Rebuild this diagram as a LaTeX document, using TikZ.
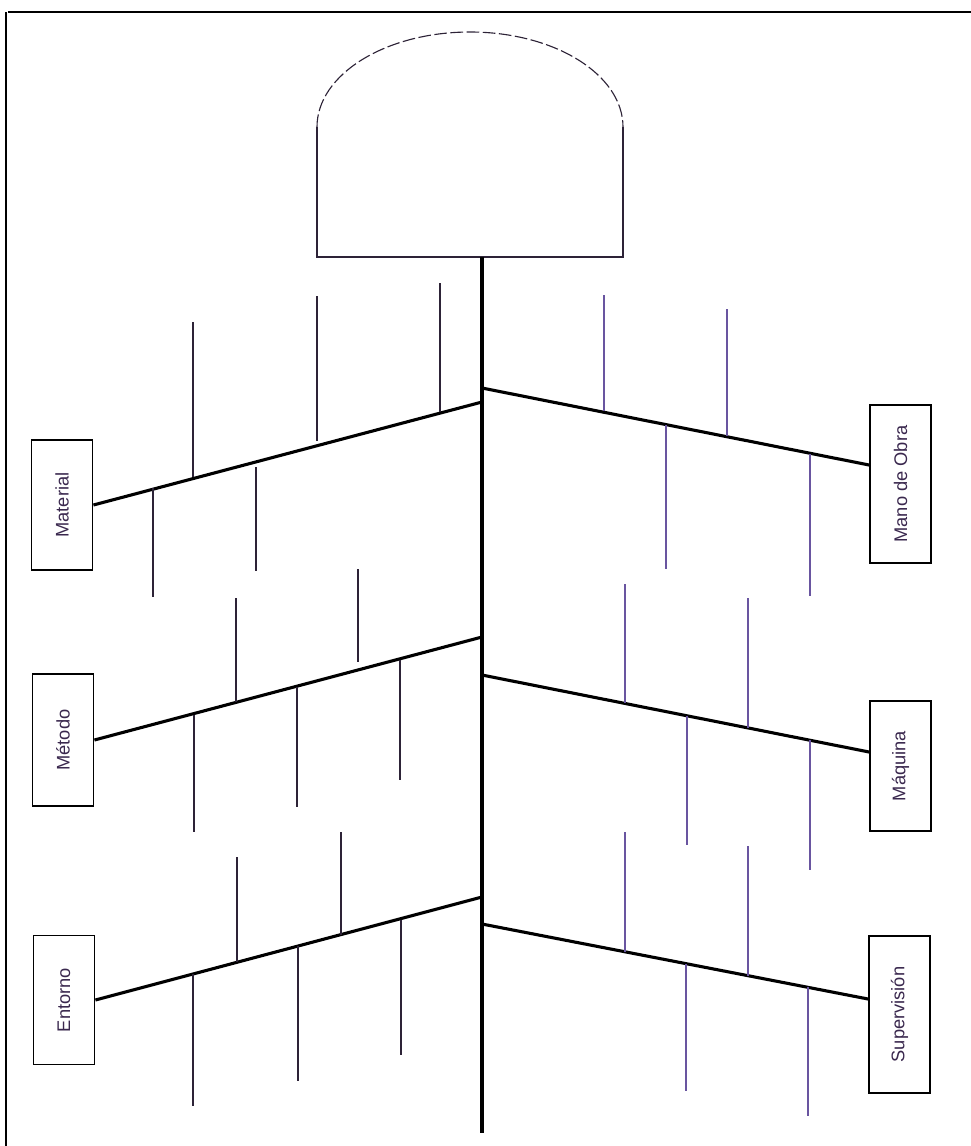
\documentclass[tikz,border=0pt]{standalone}
\usepackage{fontspec}
\setmainfont{Liberation Sans}
\usepackage{xcolor}
\usetikzlibrary{positioning}

\definecolor{labelink}{RGB}{58,40,78}
\definecolor{ribdark}{RGB}{45,35,55}
\definecolor{ribviolet}{RGB}{105,85,160}

\begin{document}
\begin{tikzpicture}[
        x=0.025cm, y=-0.025cm,
        causebox/.style={
            draw, line width=1.3pt, inner sep=0pt,
            minimum width=1.525cm,
            font=\fontsize{13}{15}\selectfont, text=labelink
        },
        headline/.style={line width=0.8pt, draw=ribdark},
        spine/.style={line width=3.2pt},
        bone/.style={line width=2.2pt},
        rib/.style={line width=0.8pt, draw=ribdark},
        ribR/.style={line width=0.8pt, draw=ribviolet}
    ]

        \useasboundingbox (0,0) rectangle (971,1146);

        \draw[line width=1.6pt] (8,12) -- (971,12);
        \draw[line width=1.1pt] (6,12) -- (6,1146);

        \coordinate (Head) at (482,257);
        \coordinate (Tail) at (482,1133);
        \draw[headline] (Head) -| (623,127);
        \draw[headline] (Head) -| (317,127);
        \draw[headline, dash pattern=on 9pt off 2.5pt]
            (317,127) arc[start angle=180, end angle=360, x radius=153, y radius=95];
        \draw[spine] (Head) -- (Tail);

        \node[causebox, minimum height=3.25cm] (Material) at (62,505) {\rotatebox{90}{Material}};
        \node[causebox, minimum height=3.3cm] (Metodo) at (63,740) {\rotatebox{90}{Método}};
        \node[causebox, minimum height=3.225cm] (Entorno) at (64,1000) {\rotatebox{90}{Entorno}};
        \node[causebox, minimum height=3.95cm] (ManoObra) at (900.5,484) {\rotatebox{90}{Mano de Obra}};
        \node[causebox, minimum height=3.25cm] (Maquina) at (900.5,766) {\rotatebox{90}{Máquina}};
        \node[causebox, minimum height=3.925cm] (Supervision) at (899.5,1014.5) {\rotatebox{90}{Supervisión}};

        \coordinate (sL1) at (482,402);
        \coordinate (sL2) at (482,637);
        \coordinate (sL3) at (482,897);
        \coordinate (sR1) at (482,388);
        \coordinate (sR2) at (482,675);
        \coordinate (sR3) at (482,924);
        \coordinate (eR1) at (ManoObra.west |- 0,465);
        \coordinate (eR2) at (Maquina.west |- 0,752);
        \coordinate (eR3) at (Supervision.west |- 0,999);

        \draw[bone] (Material.east) -- (sL1);
        \draw[bone] (Metodo.east) -- (sL2);
        \draw[bone] (Entorno.east) -- (sL3);
        \draw[bone] (sR1) -- (eR1);
        \draw[bone] (sR2) -- (eR2);
        \draw[bone] (sR3) -- (eR3);

        \foreach \x/\a/\b in {193/322/477, 317/296/441, 440/283/412, 153/488/597, 256/467/571,
                              236/598/702, 358/569/662, 194/715/832, 297/687/807, 400/660/780,
                              237/857/962, 341/832/935, 193/974/1106, 298/946/1081, 401/920/1055}
            \draw[rib] (\x,\a) -- (\x,\b);

        \foreach \x/\a/\b in {604/295/411, 727/309/436, 666/425/569, 810/454/596,
                              625/584/703, 748/598/728, 687/716/845, 810/740/870,
                              625/832/952, 748/846/976, 686/964/1091, 808/987/1116}
            \draw[ribR] (\x,\a) -- (\x,\b);

    \end{tikzpicture}
\end{document}
